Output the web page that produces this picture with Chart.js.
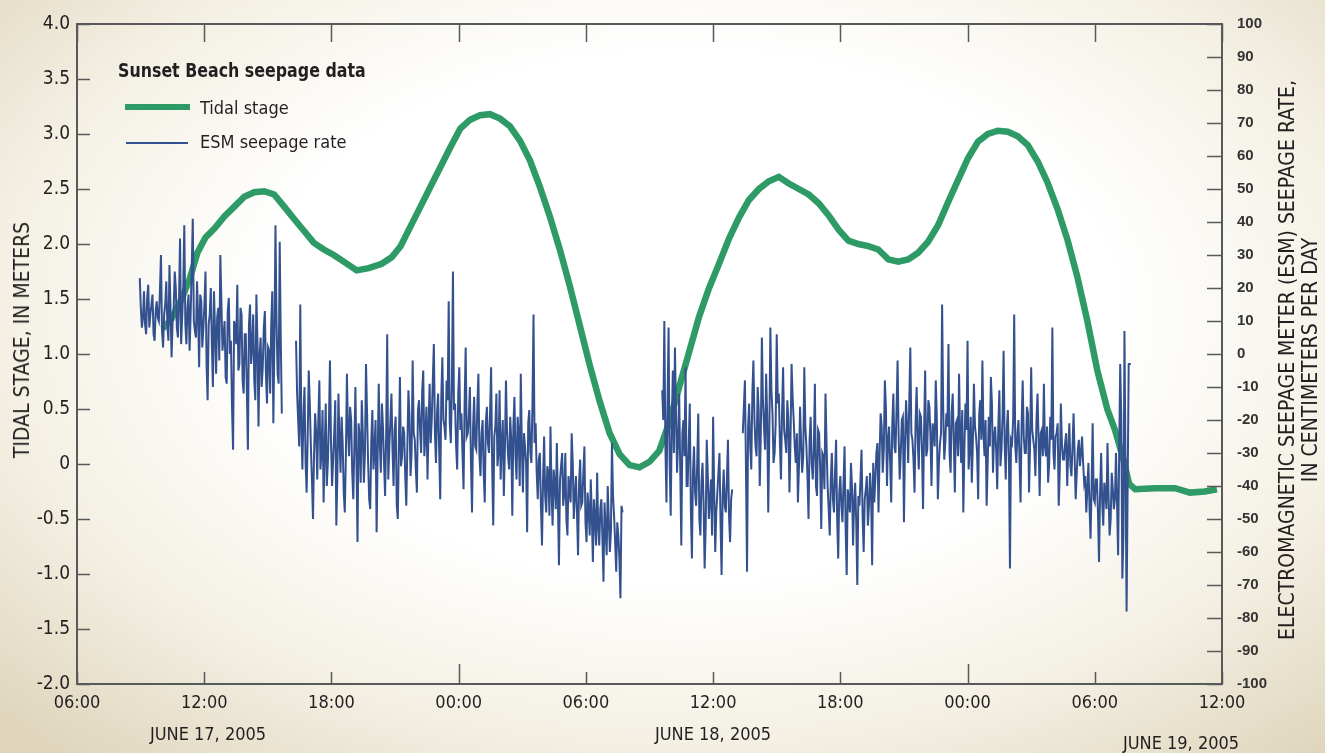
<!DOCTYPE html>
<html>
<head>
<meta charset="utf-8">
<script src="https://cdn.jsdelivr.net/npm/chart.js@4/dist/chart.umd.min.js"></script>
<style>
  html, body { margin: 0; padding: 0; }
  body {
    width: 1325px; height: 753px; overflow: hidden; position: relative;
    background: radial-gradient(ellipse 72% 78% at 52% 42%, #ffffff 0%, #ffffff 45%, #f4f0e4 72%, #ded5bb 100%);
    font-family: 'Liberation Sans Narrow', 'DejaVu Sans Condensed', 'Roboto Condensed', sans-serif;
    color: #231f20;
  }
  #wrap { position: absolute; left: 0; top: 0; width: 1325px; height: 753px; }
  .lbl { position: absolute; white-space: nowrap; }
  .rot { transform: translate(-50%, -50%) rotate(-90deg); font-size: 21px; }
</style>
</head>
<body>
<div id="wrap"><canvas id="seepChart" width="1325" height="753"></canvas></div>

<div class="lbl" style="left:118px; top:58px; font-size:20px; font-weight:bold; transform:scaleX(0.88); transform-origin:left center;">Sunset Beach seepage data</div>
<div class="lbl" style="left:125px; top:104px; width:65px; height:6px; background:#2e9a66;"></div>
<div class="lbl" style="left:200px; top:97px; font-size:18px;">Tidal stage</div>
<div class="lbl" style="left:126px; top:142px; width:62px; height:2px; background:#34518f;"></div>
<div class="lbl" style="left:200px; top:131px; font-size:18px;">ESM seepage rate</div>

<div class="lbl rot" style="left:22px; top:340px;">TIDAL STAGE, IN METERS</div>
<div class="lbl rot" style="left:1287px; top:360px;">ELECTROMAGNETIC SEEPAGE METER (ESM) SEEPAGE RATE,</div>
<div class="lbl rot" style="left:1310px; top:360px;">IN CENTIMETERS PER DAY</div>

<div class="lbl" style="left:208px; top:733px; transform:translate(-50%,-50%); font-size:18px;">JUNE 17, 2005</div>
<div class="lbl" style="left:713px; top:733px; transform:translate(-50%,-50%); font-size:18px;">JUNE 18, 2005</div>
<div class="lbl" style="left:1181px; top:742px; transform:translate(-50%,-50%); font-size:18px;">JUNE 19, 2005</div>

<script>
// time in hours after midnight, June 17 2005
const hourTicks = [6, 12, 18, 24, 30, 36, 42, 48, 54, 60];

// tidal stage, meters
const tideHours = [10.04, 10.46, 10.93, 11.31, 11.68, 12.06, 12.48, 12.95, 13.42, 13.89,
  14.36, 14.83, 15.30, 15.77, 16.23, 16.70, 17.17, 17.64, 18.11, 18.58,
  19.19, 19.76, 20.37, 20.84, 21.26, 21.73, 22.20, 22.67, 23.14, 23.61,
  24.08, 24.54, 25.01, 25.48, 25.95, 26.42, 26.89, 27.36, 27.83, 28.30,
  28.77, 29.24, 29.71, 30.18, 30.65, 31.12, 31.59, 32.06, 32.53, 33.00,
  33.46, 33.93, 34.40, 34.87, 35.34, 35.81, 36.28, 36.75, 37.22, 37.69,
  38.16, 38.63, 39.10, 39.57, 40.04, 40.51, 40.98, 41.45, 41.92, 42.38,
  42.85, 43.32, 43.79, 44.26, 44.73, 45.20, 45.67, 46.14, 46.61, 47.08,
  47.55, 48.02, 48.49, 48.96, 49.43, 49.90, 50.37, 50.84, 51.31, 51.77,
  52.24, 52.71, 53.18, 53.65, 54.12, 54.59, 54.97, 55.34, 55.62, 55.91,
  56.85, 57.78, 58.49, 59.19, 59.76];
const tideStage = [1.23, 1.32, 1.50, 1.68, 1.92, 2.06, 2.14, 2.25, 2.34, 2.43,
  2.47, 2.48, 2.45, 2.34, 2.23, 2.12, 2.01, 1.95, 1.90, 1.84,
  1.76, 1.78, 1.82, 1.88, 1.98, 2.16, 2.34, 2.52, 2.70, 2.88,
  3.05, 3.13, 3.17, 3.18, 3.14, 3.07, 2.94, 2.76, 2.52, 2.25,
  1.95, 1.62, 1.26, 0.90, 0.57, 0.28, 0.09, -0.01, -0.03, 0.02,
  0.12, 0.38, 0.70, 1.02, 1.34, 1.60, 1.82, 2.05, 2.24, 2.40,
  2.50, 2.57, 2.61, 2.55, 2.50, 2.45, 2.37, 2.26, 2.13, 2.03,
  2.00, 1.98, 1.95, 1.86, 1.84, 1.86, 1.92, 2.02, 2.17, 2.38,
  2.58, 2.78, 2.93, 3.00, 3.03, 3.02, 2.98, 2.90, 2.75, 2.56,
  2.32, 2.04, 1.70, 1.30, 0.85, 0.50, 0.30, 0.05, -0.18, -0.23,
  -0.22, -0.22, -0.26, -0.25, -0.23];

// ESM seepage rate, cm/day, four recording runs.
// readings on the tenth of an hour, and the readings in between (half-step)
const esmStart = [8.96, 16.33, 33.6, 37.4];
const esmInterval = 0.1;
const esmRunA = [23, 8, 19, 6, 21, 12, 18, 4, 16, 10,
  30, 2, 15, 9, 27, -1, 14, 20, 5, 35,
  11, 39, 3, 18, 12, 41, 7, 22, -4, 16,
  8, 25, -14, 12, 3, 19, -6, 14, 30, 1,
  10, -9, 17, 4, -29, 8, 21, -3, 12, -12,
  6, -29, 15, 2, -8, 18, -22, 5, -4, 13,
  -15, 1, 9, -21, 39, -6, 34, -18];
const esmMidA = [14, 11, 9, 17, 8, 15, 6, 13, 11, 19,
  7, 12, 22, 4, 14, 10, 25, 8, 16, 3,
  20, 9, 14, 1, 26, 10, 5, 12, 18, 2,
  15, -3, 9, 20, -10, 7, 11, -2, 16, 5,
  -7, 13, 0, -16, 10, 3, -5, 14, -8, 6,
  -11, 9, -3, 12, -14, 4, 0, -10, 8, -6,
  2, -12, 19, 4, 10, -9, 5, -2];
const esmRunB = [4, -20, 15, -35, -10, -42, -5, -28, -50, -18,
  -38, -8, -30, -45, -15, -33, -2, -40, -24, -52,
  -12, -36, -27, -48, -6, -31, -20, -44, -10, -57,
  -25, -14, -39, -3, -33, -47, -17, -29, -54, -9,
  -36, -22, -43, 6, -28, -12, -40, -19, -50, -7,
  -31, -24, -46, -11, -37, -2, -26, -42, -14, -30,
  -5, -25, -38, -9, -20, 3, -33, -12, -44, -1,
  -22, -8, 16, -27, 25, -15, -35, -4, -18, -41,
  2, -24, -10, -48, -13, -29, -6, -37, -20, -45,
  -16, -30, -4, -52, -22, -34, -11, -27, -43, -8,
  -31, -19, -49, -13, -38, -24, -6, -42, -28, -54,
  -17, -33, 12, -21, -44, -30, -58, -25, -48, -36,
  -22, -52, -39, -27, -64, -34, -46, -30, -55, -41,
  -24, -50, -37, -61, -32, -45, -28, -57, -47, -38,
  -63, -50, -36, -58, -44, -69, -53, -40, -60, -27,
  -49, -66, -55, -74, -48];
const esmMidB = [-12, -28, -22, -18, -33, -25, -15, -38, -30, -24,
  -20, -35, -17, -29, -40, -21, -27, -32, -14, -37,
  -26, -19, -42, -31, -23, -16, -36, -28, -33, -21,
  -39, -24, -30, -18, -44, -26, -35, -20, -31, -27,
  -15, -33, -25, -38, -20, -29, -23, -46, -27, -34,
  -22, -37, -28, -19, -30, -24, -35, -17, -23, -11,
  -31, -16, -22, -27, -8, -24, -18, -29, -13, -20,
  -26, -14, -21, -10, -17, -28, -12, -23, -30, -15,
  -25, -19, -33, -22, -28, -16, -31, -24, -36, -21,
  -27, -18, -34, -25, -12, -30, -38, -20, -29, -23,
  -35, -26, -22, -31, -19, -40, -28, -24, -33, -21,
  -30, -15, -27, -36, -32, -46, -38, -43, -34, -49,
  -41, -35, -47, -44, -38, -30, -42, -50, -37, -45,
  -33, -43, -48, -39, -46, -36, -51, -42, -55, -49,
  -44, -58, -52, -47, -56, -45, -61, -50, -54, -43,
  -57, -51, -62, -46, -59];
const esmRunC = [-11, 10, -45, 8, -49, -5, 2, -36, -12, -58,
  -20, -4, -40, -15, -62, -28, -46, -18, -55, -33,
  -65, -26, -50, -38, -19, -60, -42, -30, -67, -35,
  -48, -26, -57, -41];
const esmMidC = [-20, -28, -15, -33, -22, -30, -18, -26, -35, -24,
  -31, -40, -27, -47, -36, -42, -33, -50, -39, -45,
  -52, -37, -44, -55, -41, -48, -36, -51, -43, -46,
  -38, -49, -44, -50];
const esmRunD = [-24, -8, -66, -15, -35, -2, -28, -10, -40, 5,
  -22, -6, -48, 8, -18, -30, 6, -12, -38, -4,
  -26, -14, -42, -3, -20, -33, -45, -16, -36, -4,
  -28, -50, -19, -38, -9, -43, -24, -53, -31, -12,
  -40, -55, -30, -48, -26, -62, -37, -51, -28, -67,
  -44, -33, -58, -39, -70, -46, -29, -60, -41, -52,
  -36, -64, -45, -30, -48, -18, -36, -8, -40, -22,
  -45, -12, -30, -2, -38, -20, -51, -14, -33, 2,
  -26, -42, -10, -35, -19, -47, -5, -29, -16, -40,
  -23, -8, -44, -27, 15, -32, -18, 3, -36, -12,
  -42, -20, -6, -33, -48, -15, 4, -28, -39, -9,
  -25, -44, -14, -2, -31, -46, -19, -7, -36, -22,
  -41, -11, -29, 1, -38, -17, -65, -27, 12, -33,
  -20, -45, -8, -30, -16, -42, -4, -26, -37, -12,
  -43, -23, -9, -31, -39, -19, 8, -35, -24, -46,
  -15, -32, -27, -40, -21, -37, -18, -44, -29, -34,
  -25, -39, -48, -33, -56, -21, -45, -38, -63, -30,
  -52, -42, -27, -55, -36, -47, -30, -61, -3, -68,
  7, -78, -3, -3];
const esmMidD = [-16, -35, -22, -28, -12, -20, -31, -17, -24, -14,
  -29, -19, -25, -11, -33, -21, -15, -27, -18, -23,
  -30, -20, -26, -13, -28, -24, -34, -27, -31, -22,
  -37, -26, -33, -29, -40, -23, -35, -30, -41, -27,
  -47, -38, -44, -36, -50, -42, -46, -39, -53, -41,
  -48, -40, -45, -51, -43, -38, -49, -44, -37, -46,
  -42, -33, -38, -27, -31, -22, -29, -16, -26, -33,
  -21, -28, -17, -25, -30, -19, -27, -22, -15, -24,
  -32, -20, -26, -18, -29, -23, -31, -14, -25, -21,
  -28, -19, -33, -24, -16, -27, -22, -30, -18, -26,
  -21, -31, -25, -17, -29, -23, -35, -19, -27, -22,
  -30, -18, -26, -24, -20, -33, -28, -15, -25, -29,
  -22, -34, -19, -27, -23, -31, -26, -20, -28, -24,
  -32, -21, -25, -30, -18, -27, -23, -29, -20, -26,
  -24, -31, -28, -22, -33, -26, -30, -25, -21, -35,
  -27, -32, -24, -29, -34, -28, -31, -36, -26, -30,
  -33, -37, -41, -46, -40, -44, -38, -48, -42, -45,
  -39, -47, -43, -50, -41, -44, -45, -30, -20, -55,
  -35, -40, -3, -3];

const leftTicks = [4, 3.5, 3, 2.5, 2, 1.5, 1, 0.5, 0, -0.5, -1, -1.5, -2];
const rightTicks = [100, 90, 80, 70, 60, 50, 40, 30, 20, 10, 0, -10, -20, -30, -40, -50, -60, -70, -80, -90, -100];

const green = '#2e9a66';
const blue = '#34518f';
const axisColor = '#58595b';
const narrow = "'Liberation Sans Narrow', 'DejaVu Sans Condensed', 'Roboto Condensed', sans-serif";

const tidePoints = tideHours.map((h, i) => ({ x: h, y: tideStage[i] }));

const esmRuns = [esmRunA, esmRunB, esmRunC, esmRunD];
const esmMids = [esmMidA, esmMidB, esmMidC, esmMidD];
const esmPoints = [];
esmRuns.forEach((run, r) => {
  if (r > 0) esmPoints.push({ x: esmStart[r] - 0.05, y: null });
  run.forEach((v, i) => {
    const t = esmStart[r] + i * esmInterval;
    esmPoints.push({ x: t, y: v });
    if (i < run.length - 1) esmPoints.push({ x: t + esmInterval / 2, y: esmMids[r][i] });
  });
});

// frame and inward tick marks, placed through the chart's own scales
const frameTicks = {
  id: 'frameTicks',
  afterDatasetsDraw(chart) {
    const { ctx, chartArea: a, scales } = chart;
    ctx.save();
    ctx.strokeStyle = axisColor;
    ctx.lineWidth = 1.5;
    ctx.beginPath();
    leftTicks.forEach(v => {
      const y = Math.round(scales.y.getPixelForValue(v)) + 0.5;
      ctx.moveTo(a.left, y); ctx.lineTo(a.left + 13, y);
    });
    rightTicks.forEach(v => {
      const y = Math.round(scales.y2.getPixelForValue(v)) + 0.5;
      ctx.moveTo(a.right - 15, y); ctx.lineTo(a.right, y);
    });
    hourTicks.forEach(h => {
      const x = Math.round(scales.x.getPixelForValue(h)) + 0.5;
      const len = h % 24 === 0 ? 20 : 12;
      ctx.moveTo(x, a.bottom); ctx.lineTo(x, a.bottom - len);
      ctx.moveTo(x, a.top); ctx.lineTo(x, a.top + 18);
    });
    ctx.stroke();
    ctx.lineWidth = 2;
    ctx.strokeRect(a.left, a.top, a.right - a.left, a.bottom - a.top);
    ctx.restore();
  }
};

const ctx = document.getElementById('seepChart').getContext('2d');

new Chart(ctx, {
  type: 'line',
  data: {
    datasets: [
      {
        label: 'ESM seepage rate',
        data: esmPoints,
        yAxisID: 'y2',
        borderColor: blue,
        borderWidth: 2,
        pointRadius: 0,
        tension: 0,
        spanGaps: false
      },
      {
        label: 'Tidal stage',
        data: tidePoints,
        yAxisID: 'y',
        borderColor: green,
        borderWidth: 6.5,
        pointRadius: 0,
        tension: 0
      }
    ]
  },
  options: {
    responsive: false,
    animation: false,
    layout: { padding: { top: 18, left: 0, right: 0, bottom: 0 } },
    plugins: {
      legend: { display: false },
      tooltip: { enabled: false }
    },
    scales: {
      x: {
        type: 'linear',
        min: 6,
        max: 60,
        afterFit: s => { s.height = 69; },
        afterBuildTicks: s => { s.ticks = hourTicks.map(v => ({ value: v })); },
        grid: { display: false, drawTicks: false },
        border: { display: false },
        ticks: {
          padding: 9,
          color: '#231f20',
          font: { family: narrow, size: 18 },
          maxRotation: 0,
          callback: v => String(v % 24).padStart(2, '0') + ':00'
        }
      },
      y: {
        position: 'left',
        min: -2,
        max: 4,
        afterFit: s => { s.width = 77; },
        afterBuildTicks: s => { s.ticks = leftTicks.map(v => ({ value: v })); },
        grid: { display: false, drawTicks: false },
        border: { display: false },
        ticks: {
          padding: 7,
          color: '#231f20',
          font: { family: narrow, size: 19 },
          callback: v => (v === 0 ? '0' : v.toFixed(1))
        }
      },
      y2: {
        position: 'right',
        min: -100,
        max: 100,
        afterFit: s => { s.width = 103; },
        afterBuildTicks: s => { s.ticks = rightTicks.map(v => ({ value: v })); },
        grid: { display: false, drawTicks: false },
        border: { display: false },
        ticks: {
          padding: 15,
          color: '#333333',
          font: { family: "'Liberation Sans', Arial, sans-serif", size: 15, weight: 'bold' },
          callback: v => String(v)
        }
      }
    }
  },
  plugins: [frameTicks]
});
</script>
</body>
</html>
